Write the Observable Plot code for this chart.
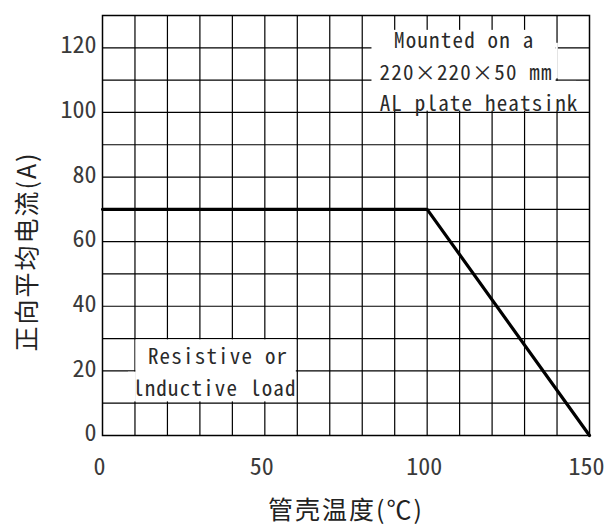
<!DOCTYPE html>
<html>
<head>
<meta charset="utf-8">
<script src="https://cdn.jsdelivr.net/npm/d3@7"></script>
<script src="https://cdn.jsdelivr.net/npm/@observablehq/plot@0.6"></script>
<style>
  html, body { margin: 0; padding: 0; background: #fff; }
  #chart svg { display: block; }
</style>
</head>
<body>
<div id="chart"></div>
<script>
// ---- data ----
const caseTemp = [0, 100, 150];          // 管壳温度 (℃)
const avgCurrent = [70, 70, 0];          // 正向平均电流 (A)
const xTicks = [0, 50, 100, 150];
const yTicks = [0, 20, 40, 60, 80, 100, 120];
const xGrid = [10, 20, 30, 40, 50, 60, 70, 80, 90, 100, 110, 120, 130, 140];
const yGrid = [10, 20, 30, 40, 50, 60, 70, 80, 90, 100, 110, 120];
const xLabel = "管壳温度(℃)";
const yLabel = "正向平均电流(A)";
const noteTop = ["Mounted on a", "220×220×50 mm", "AL plate heatsink"];
const noteTopX = [111.4, 112.0, 116.0];
const noteTopY = [122.0, 112.2, 102.4];
const noteBottom = ["Resistive or", "lnductive load"];
const noteBottomX = [35.6, 34.6];
const noteBottomY = [24.1, 14.2];
// label-box backgrounds (data extents)
const boxX1 = [83, 139.7, 139.7, 10.3, 8];
const boxX2 = [139.7, 146, 140.4, 59.7, 10.4];
const boxY1 = [100.4, 100.4, 110.4, 10.4, 10.4];
const boxY2 = [125.4, 109.6, 121.4, 29.6, 19.6];

const lineData = caseTemp.map((t, i) => ({t, a: avgCurrent[i]}));
const boxData = boxX1.map((x1, i) => ({x1, x2: boxX2[i], y1: boxY1[i], y2: boxY2[i]}));
const topNotes = noteTop.map((s, i) => ({s, x: noteTopX[i], y: noteTopY[i]}));
const bottomNotes = noteBottom.map((s, i) => ({s, x: noteBottomX[i], y: noteBottomY[i]}));

const mono = "'Noto Sans Mono CJK SC', 'DejaVu Sans Mono', monospace";
const cjk = "'Noto Sans CJK SC', sans-serif";

const chart = Plot.plot({
  width: 609,
  height: 526,
  marginLeft: 102,
  marginRight: 20,
  marginTop: 15,
  marginBottom: 91,
  style: {fontFamily: mono, background: "#fff", color: "#000"},
  x: {domain: [0, 150]},
  y: {domain: [0, 130]},
  marks: [
    Plot.ruleX(xGrid, {stroke: "#000", strokeWidth: 1.2}),
    Plot.ruleY(yGrid, {stroke: "#000", strokeWidth: 1.2}),
    Plot.rect(boxData, {x1: "x1", x2: "x2", y1: "y1", y2: "y2", fill: "#fff"}),
    Plot.text(topNotes, {x: "x", y: "y", text: "s", fontSize: 21, fill: "#2a2a2a", fontFamily: mono}),
    Plot.text(bottomNotes, {x: "x", y: "y", text: "s", fontSize: 21, fill: "#2a2a2a", fontFamily: mono}),
    Plot.frame({stroke: "#000", strokeWidth: 1.5}),
    Plot.line(lineData, {x: "t", y: "a", stroke: "#000", strokeWidth: 3.2, strokeLinejoin: "miter"}),
    Plot.axisX(xTicks, {tickSize: 0, tickPadding: 0, dy: 22, dx: -3, fontSize: 24, fill: "#3a3a3a", label: null, fontFamily: mono}),
    Plot.axisY(yTicks, {tickSize: 0, tickPadding: 6, dy: -2, fontSize: 24, fill: "#3a3a3a", label: null, fontFamily: mono}),
    Plot.text([xLabel], {frameAnchor: "bottom", lineAnchor: "middle", textAnchor: "middle", dy: 75, fontSize: 25, fill: "#222", fontFamily: cjk}),
    Plot.text([yLabel], {frameAnchor: "left", lineAnchor: "middle", textAnchor: "middle", dx: -75, dy: 26, rotate: -90, fontSize: 25, fill: "#222", fontFamily: cjk})
  ]
});
// letter spacing tweaks to match the reference's wider glyph pitch
const noteSet = new Set([...noteTop, ...noteBottom]);
d3.select(chart).selectAll("text").each(function () {
  const t = this.textContent;
  if (noteSet.has(t)) this.setAttribute("letter-spacing", "1.2");
  else if (t === xLabel || t === yLabel) this.setAttribute("letter-spacing", "2");
});
document.getElementById("chart").appendChild(chart);
</script>
</body>
</html>
